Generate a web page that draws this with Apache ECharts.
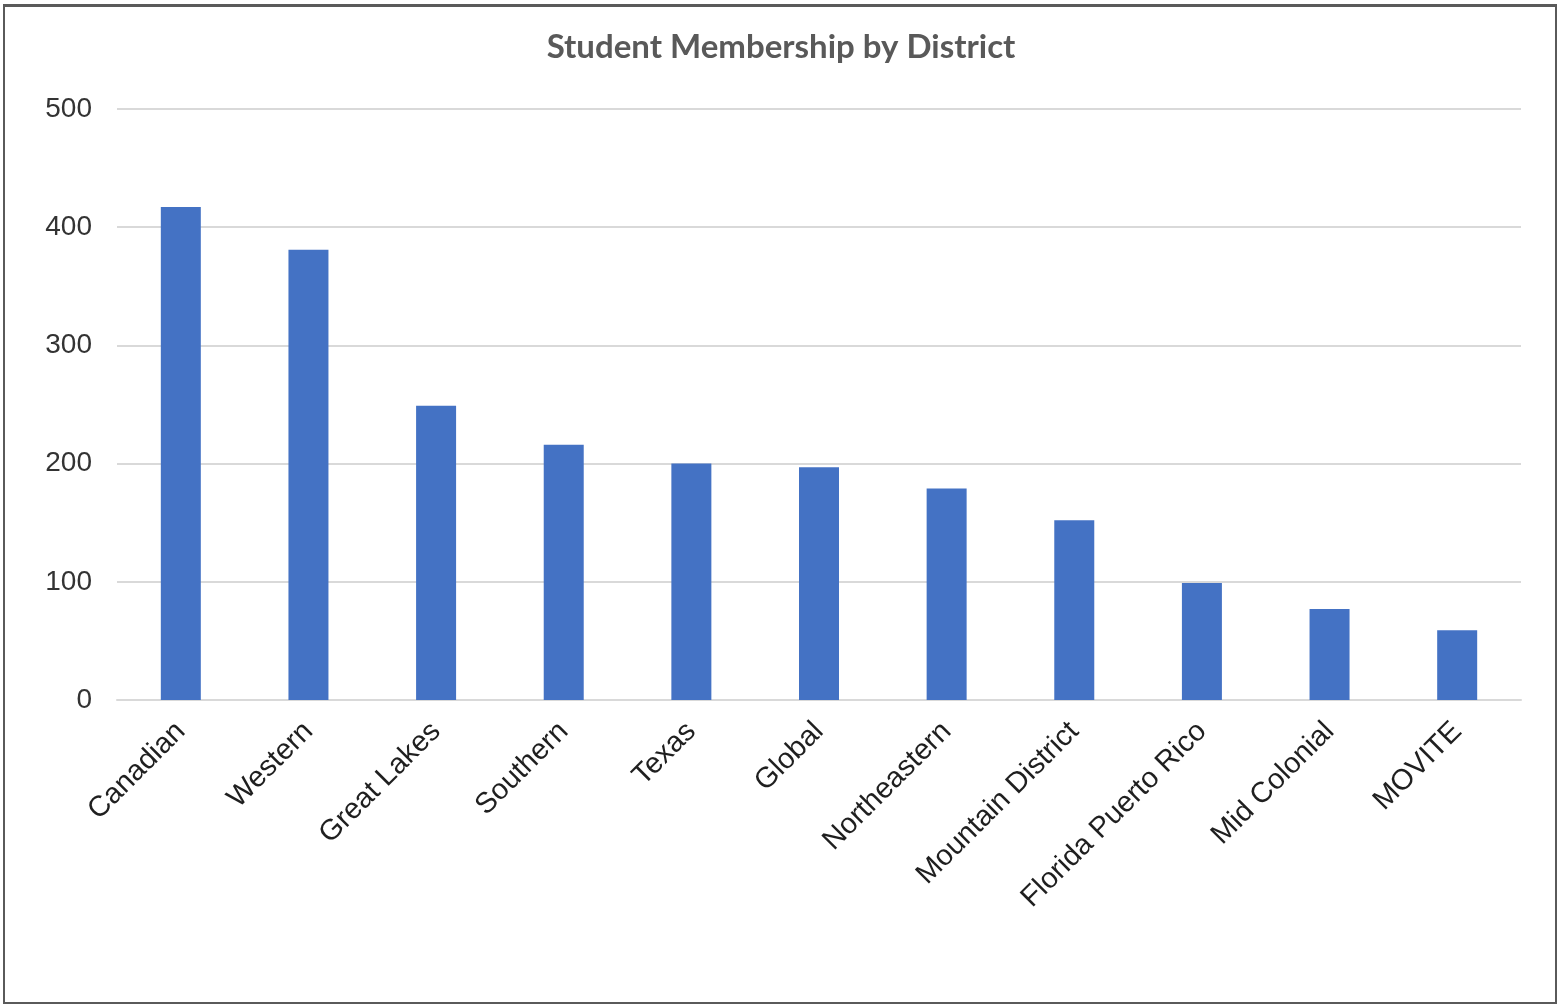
<!DOCTYPE html>
<html>
<head>
<meta charset="utf-8">
<title>Student Membership by District</title>
<script src="https://cdn.jsdelivr.net/npm/echarts@6/dist/echarts.min.js"></script>
<style>
  html, body { margin: 0; padding: 0; background: #ffffff; }
  #frame {
    position: absolute; left: 3px; top: 4px; width: 1550px; height: 995px;
    border: 2px solid #5a5a5a; border-top-width: 3px; box-sizing: content-box;
  }
  #chart { position: absolute; left: 0; top: 0; width: 1562px; height: 1004px; }
</style>
</head>
<body>
<div id="frame"></div>
<div id="chart"></div>
<script>
// Districts, in order of membership
const districts = [
  'Canadian', 'Western', 'Great Lakes', 'Southern', 'Texas', 'Global',
  'Northeastern', 'Mountain District', 'Florida Puerto Rico', 'Mid Colonial', 'MOVITE'
];
// Student members per district
const members = [417, 381, 249, 216, 200, 197, 179, 152, 99, 77, 59];
// Value axis range
const yMin = 0;
const yMax = 500;
const yStep = 100;

const chart = echarts.init(document.getElementById('chart'), null, { renderer: 'canvas' });
chart.setOption({
  backgroundColor: 'transparent',
  animation: false,
  title: {
    text: 'Student Membership by District',
    left: 'center',
    top: 26,
    textStyle: {
      fontFamily: 'Lato',
      fontWeight: 'bold',
      fontSize: 33,
      color: '#595959'
    }
  },
  grid: { left: 117, right: 41, top: 109, bottom: 304, containLabel: false },
  xAxis: {
    type: 'category',
    data: districts,
    axisLine: { show: true, lineStyle: { color: '#d9d9d9', width: 2 } },
    axisTick: { show: false },
    axisLabel: {
      rotate: 45,
      interval: 0,
      margin: 27,
      fontFamily: 'Liberation Sans',
      fontSize: 29,
      color: '#1f1f1f'
    }
  },
  yAxis: {
    type: 'value',
    min: yMin,
    max: yMax,
    interval: yStep,
    axisLine: { show: false },
    axisTick: { show: false },
    splitLine: { lineStyle: { color: '#d9d9d9', width: 2 } },
    axisLabel: {
      margin: 25,
      fontFamily: 'Liberation Sans',
      fontSize: 28,
      color: '#333333'
    }
  },
  series: [{
    type: 'bar',
    data: members,
    barWidth: 40,
    itemStyle: { color: '#4472C4' }
  }]
});
</script>
</body>
</html>
